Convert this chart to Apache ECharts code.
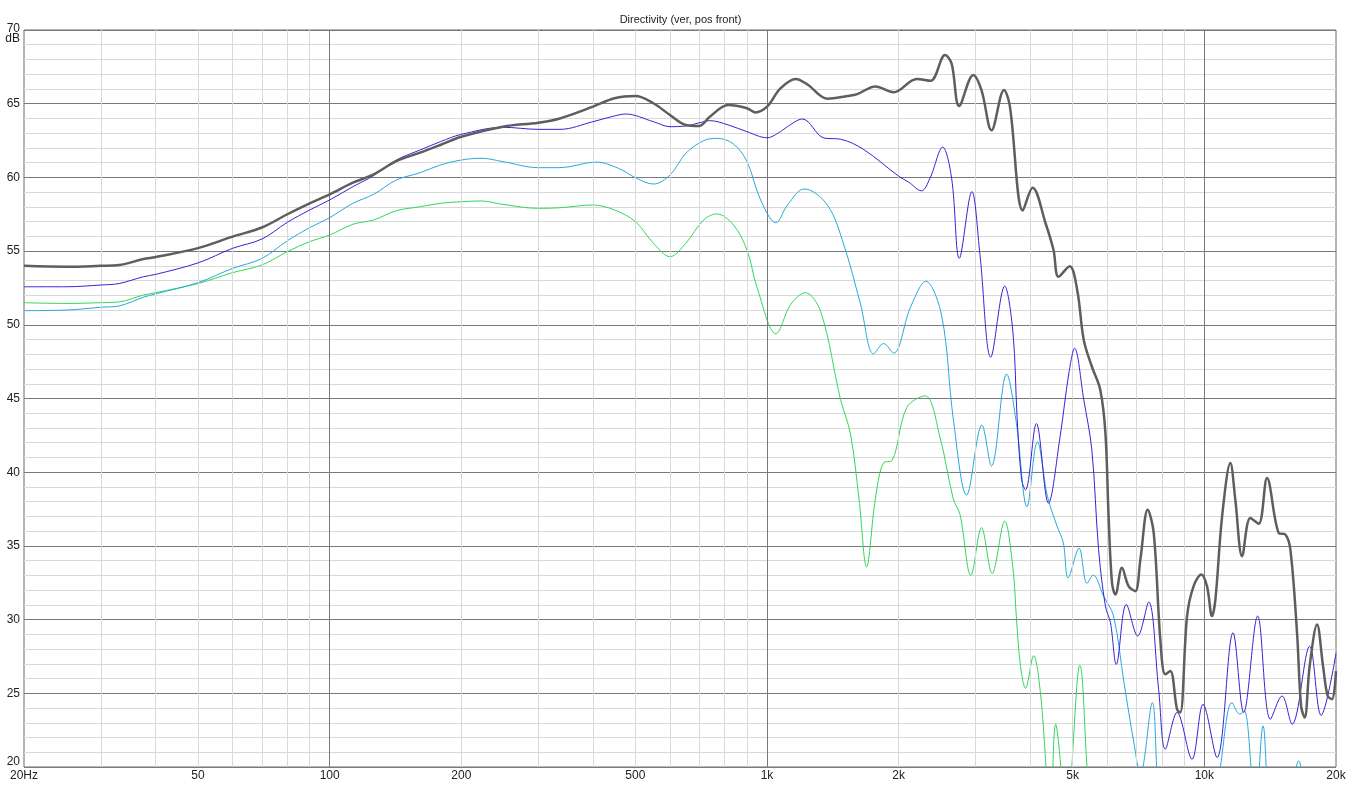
<!DOCTYPE html>
<html>
<head>
<meta charset="utf-8">
<script src="https://cdn.jsdelivr.net/npm/echarts@6/dist/echarts.min.js"></script>
<style>
html,body{margin:0;padding:0;background:#fff;}
#chart{width:1361px;height:795px;}
</style>
</head>
<body>
<div id="chart"></div>
<script>
// ---- data (frequency in Hz, level in dB) ----
const grayF = [20,25,30,33,37.5,40,50,60,70,80,90,100,113,126,142,161,179,200,249,300,336,400,448,500,550,600,652,700,740,815,900,940,1000,1073,1164,1237,1374,1526,1608,1769,1948,2200,2366,2553,2643,2750,2962,3094,3261,3483,3590,3845,4049,4340,4520,4640,4920,5120,5300,5530,5780,5940,6040,6150,6260,6480,6710,6950,7140,7420,7660,7930,8140,8360,8660,8810,9130,9450,9840,10140,10410,10600,10980,11470,11770,12200,12740,13310,13910,14790,15320,15730,16290,16640,16960,17410,18100,18680,19140,19590,20000];
const grayDb = [54.0,53.94,54.0,54.05,54.46,54.6,55.2,55.98,56.6,57.5,58.24,58.85,59.64,60.2,61.1,61.68,62.2,62.76,63.44,63.71,64.0,64.8,65.37,65.52,65.03,64.23,63.56,63.49,64.12,64.91,64.69,64.41,64.8,66.04,66.68,66.3,65.34,65.52,65.65,66.17,65.78,66.68,66.55,68.3,67.72,64.85,66.95,65.91,63.2,65.93,64.87,57.75,59.3,56.84,55.07,53.26,53.98,52.36,48.97,47.17,45.59,42.65,37.0,32.49,31.7,33.51,32.27,31.93,34.07,37.46,35.88,28.66,26.29,26.52,23.92,23.7,30.24,32.27,33.06,32.27,30.24,31.37,37.01,40.62,38.14,34.3,36.9,36.5,39.6,35.88,35.77,34.75,29.11,24.15,23.35,26.85,29.67,26.85,24.82,24.6,26.5];

const blueF = [20,25,30,33,37.5,40,50,60,70,80,90,100,113,126,142,161,179,200,249,300,336,400,448,475,550,600,652,700,740,815,900,1000,1073,1114,1205,1350,1473,1664,2000,2106,2255,2359,2521,2643,2752,2940,3068,3248,3495,3650,3730,3820,3900,4130,4400,4680,4900,5050,5300,5530,5730,5940,6100,6290,6630,7040,7460,7860,8140,8660,9370,9930,10690,11630,12300,13240,14160,15050,15870,17410,18490,20000];
const blueDb = [52.58,52.58,52.7,52.8,53.26,53.42,54.2,55.19,55.82,56.95,57.79,58.47,59.37,60.12,61.18,61.86,62.42,62.92,63.4,63.26,63.26,63.78,64.17,64.3,63.78,63.44,63.49,63.7,63.85,63.56,63.1,62.69,63.1,63.45,63.96,62.67,62.59,61.89,60.08,59.69,59.09,59.95,62.05,59.95,54.51,59.04,54.77,47.8,52.63,49.5,43.8,39.5,38.8,43.3,37.9,42.43,46.72,48.41,44.91,41.52,34.75,30.91,29.79,26.96,31.03,28.89,31.19,25.27,21.21,23.7,20.53,24.25,20.64,29.11,23.7,30.24,23.24,24.82,22.9,28.2,23.5,27.7];

const cyanF = [20,25,30,33,37.5,40,50,60,70,80,90,100,113,126,142,161,179,200,222,249,300,336,407,457,503,550,600,652,716,768,838,900,967,1048,1114,1216,1374,1499,1636,1753,1848,1948,2125,2307,2508,2666,2860,3100,3260,3530,3715,3930,4150,4380,4610,4760,4880,5170,5390,5570,5880,6200,6550,6900,7140,7600,7930,8500,9500,10300,10880,11570,12050,12350,13080,13620,14160,15200,16430,17500,20000];
const cyanDb = [50.96,51.0,51.19,51.28,51.87,52.1,52.86,53.83,54.5,55.7,56.59,57.27,58.24,58.85,59.82,60.32,60.84,61.18,61.3,61.07,60.66,60.66,61.04,60.62,59.94,59.55,60.16,61.63,62.49,62.65,62.27,61.07,58.47,56.92,58.13,59.22,58.13,55.41,51.4,48.03,48.73,48.08,51.14,52.95,50.62,43.63,38.45,43.2,40.42,46.66,43.37,37.66,42.07,38.34,36.3,35.2,32.83,34.84,32.46,33.03,31.6,30.24,25.73,21.66,19.5,24.37,17,15,14,15,20.0,24.37,23.58,23.8,17,22.79,17,15,20.42,15,14];

const greenF = [20,25,30,33,37.5,40,50,60,70,80,90,100,113,126,142,161,179,200,222,249,300,336,400,448,500,550,600,652,716,768,838,900,948,1048,1134,1223,1327,1473,1552,1623,1689,1769,1848,1931,2088,2299,2488,2666,2762,2925,3094,3271,3495,3650,3720,3800,3900,4070,4220,4450,4570,4840,5190,5500,6000,8000,12000,20000];
const greenDb = [51.5,51.45,51.5,51.55,52.02,52.18,52.8,53.54,54.06,54.96,55.64,56.09,56.82,57.11,57.74,58.01,58.24,58.35,58.4,58.17,57.9,57.94,58.13,57.79,57.0,55.53,54.62,55.53,57.11,57.52,56.77,55.07,52.58,49.4,51.4,52.18,50.88,44.92,42.59,38.19,33.58,38.19,40.65,40.78,44.4,45.18,42.33,38.19,37.15,33.0,36.24,33.13,36.68,33.5,30.0,26.8,25.34,27.55,25.0,17,22.9,17,26.9,17,12,12,12,12];

// ---- axis / grid definitions ----
const minorFreqs = [30,40,50,60,70,80,90,200,300,400,500,600,700,800,900,2000,3000,4000,5000,6000,7000,8000,9000];
const majorFreqs = [100,1000,10000];
const xTickFreqs = [20,50,100,200,500,1000,2000,5000,10000,20000];
const xTickLabels = ['20Hz','50','100','200','500','1k','2k','5k','10k','20k'];
const titleText = 'Directivity (ver, pos front)';

const FONT = '"Liberation Sans", Arial, sans-serif';
const zip = (a, b) => a.map((v, i) => [v, b[i]]);

const chart = echarts.init(document.getElementById('chart'), null, {renderer: 'canvas'});

const gridLines = [];
minorFreqs.forEach(f => gridLines.push({xAxis: f, lineStyle: {color: '#d9d9d9', width: 1, type: 'solid'}}));
majorFreqs.forEach(f => gridLines.push({xAxis: f, lineStyle: {color: '#7a7a7a', width: 1, type: 'solid'}}));

const labelLines = xTickFreqs.map((f, i) => ({xAxis: f, name: xTickLabels[i]}));

function dataSeries(name, f, db, color, width, z) {
  return {
    name, type: 'line', data: zip(f, db), showSymbol: false, symbol: 'none',
    smooth: 0.35, clip: true, z,
    lineStyle: {color, width}, itemStyle: {color},
    emphasis: {disabled: true}, animation: false
  };
}

chart.setOption({
  animation: false,
  backgroundColor: '#ffffff',
  title: {
    text: titleText, left: 'center', top: 9,
    textStyle: {fontSize: 11, fontWeight: 'normal', color: '#222', fontFamily: FONT}
  },
  grid: {left: 24, right: 25, top: 30, bottom: 28, show: true, borderColor: '#6a6a6a', borderWidth: 1, backgroundColor: 'transparent'},
  xAxis: {
    type: 'log', logBase: 10, min: 20, max: 20000,
    axisLine: {show: false}, axisTick: {show: false}, axisLabel: {show: false},
    splitLine: {show: false}, minorSplitLine: {show: false}
  },
  yAxis: {
    type: 'value', min: 20, max: 70, interval: 5,
    axisLine: {show: false}, axisTick: {show: false},
    axisLabel: {
      margin: 4, fontSize: 12, color: '#222', fontFamily: FONT,
      formatter: v => v === 70 ? '{top|70}\n{top|dB}' : (v === 20 ? '{bot|20}' : String(v)),
      rich: {
        top: {fontSize: 12, lineHeight: 10, color: '#222', fontFamily: FONT, padding: [7, 0, 0, 0], align: 'right'},
        bot: {fontSize: 12, color: '#222', fontFamily: FONT, padding: [0, 0, 10, 0]}
      }
    },
    splitLine: {show: true, lineStyle: {color: '#7a7a7a', width: 1}},
    minorTick: {show: false, splitNumber: 5},
    minorSplitLine: {show: true, lineStyle: {color: '#d9d9d9', width: 1}}
  },
  series: [
    {
      name: 'grid', type: 'line', data: [], z: 1, silent: true,
      markLine: {silent: true, symbol: ['none', 'none'], animation: false, label: {show: false}, data: gridLines}
    },
    {
      name: 'xlabels', type: 'line', data: [], z: 1, silent: true,
      markLine: {
        silent: true, symbol: ['none', 'none'], animation: false,
        lineStyle: {color: 'rgba(0,0,0,0)', width: 1, type: 'solid'},
        label: {show: true, position: 'start', distance: 3, formatter: '{b}', fontSize: 12, color: '#222', fontFamily: FONT, opacity: 1},
        data: labelLines
      }
    },
    dataSeries('green', greenF, greenDb, '#32d65a', 1, 3),
    dataSeries('cyan', cyanF, cyanDb, '#25aad8', 1, 4),
    dataSeries('blue', blueF, blueDb, '#3a22d4', 1, 5),
    dataSeries('gray', grayF, grayDb, '#5e5e5e', 2.5, 6)
  ]
});
</script>
</body>
</html>
